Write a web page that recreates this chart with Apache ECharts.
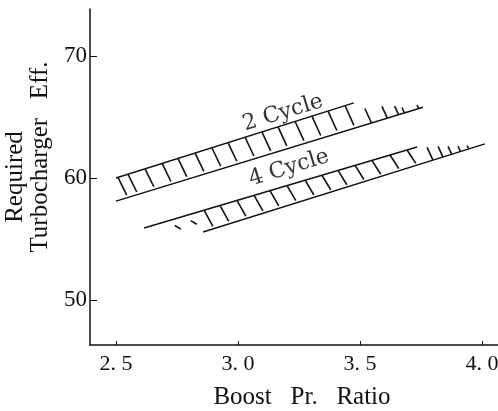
<!DOCTYPE html>
<html><head><meta charset="utf-8">
<script src="https://cdn.jsdelivr.net/npm/echarts@6/dist/echarts.min.js"></script>
<style>html,body{margin:0;padding:0;background:#fff}#c{width:498px;height:411px}</style>
</head><body><div id="c"></div>
<script>
// ---- data ----
const xTicks = [2.5, 3.0, 3.5, 4.0];
const yTicks = [50, 60, 70];
const twoCycleUpper = [[2.5, 60.0], [3.475, 66.15]];
const twoCycleLower = [[2.5, 58.1], [3.758, 65.8]];
const fourCycleUpper = [[2.615, 55.9], [3.734, 62.54]];
const fourCycleLower = [[2.857, 55.57], [4.012, 62.79]];
const twoCycleHatchX = [2.508, 2.549, 2.619, 2.689, 2.754, 2.824, 2.893, 2.959, 3.029, 3.098, 3.164, 3.234, 3.303, 3.369, 3.439];
const twoCycleTailX = [3.520, 3.590, 3.642, 3.672, 3.734];
const twoCycleTailLen = [1.35, 1.1, 0.8, 0.5, 0.33];
const fourCycleHatchX = [2.730, 2.795, 2.861, 2.926, 2.996, 3.066, 3.131, 3.201, 3.275, 3.344, 3.410, 3.480, 3.549, 3.623, 3.693];
const fourCycleTailX = [3.775, 3.820, 3.861, 3.902, 3.939];
const fourCycleTailLen = [1.2, 1.0, 0.75, 0.5, 0.33];
const bandLabels = [
  { name: '2 Cycle', value: [3.184, 65.33] },
  { name: '4 Cycle', value: [3.209, 60.82] }
];

const INK = '#111';
function lineY(line, x) {
  const [a, b] = line;
  return a[1] + (b[1] - a[1]) * (x - a[0]) / (b[0] - a[0]);
}
function hatchSeries(upper, lower, hatchX, tailX, tailLen) {
  const data = hatchX.map(x => [x, 0]).concat(tailX.map((x, i) => [x, tailLen[i]]));
  return {
    type: 'custom', data: data, silent: true, clip: false,
    renderItem: function (params, api) {
      const x = api.value(0), len = api.value(1);
      let p1, p2;
      if (len === 0) {
        const xb = x + 0.036;
        const frac = xb < lower[0][0] ? 0.55 : 0.88;
        p1 = api.coord([x, lineY(upper, x)]);
        const ub = api.coord([xb, lineY(upper, xb)]);
        const lb = api.coord([xb, lineY(lower, xb)]);
        if (frac < 0.8) { p1 = [p1[0] + (lb[0] - p1[0]) * 0.3, p1[1] + (lb[1] - p1[1]) * 0.3]; }
        p2 = [lb[0], ub[1] + (lb[1] - ub[1]) * frac];
      } else {
        const xb = x + 0.02 * len;
        p1 = api.coord([x, lineY(lower, x) + len]);
        p2 = api.coord([xb, lineY(lower, xb)]);
      }
      return { type: 'line', shape: { x1: p1[0], y1: p1[1], x2: p2[0], y2: p2[1] },
               style: { stroke: INK, lineWidth: 1.6 } };
    }
  };
}
function bandLine(data) {
  return { type: 'line', data: data, symbol: 'none', silent: true,
           lineStyle: { color: INK, width: 1.4 } };
}

const chart = echarts.init(document.getElementById('c'), null, { renderer: 'canvas' });
chart.setOption({
  animation: false,
  backgroundColor: '#fff',
  grid: { left: 90, right: 0, top: 9, bottom: 66, containLabel: false, outerBoundsMode: 'none' },
  xAxis: {
    type: 'value', min: 2.3934, max: 4.0656,
    name: 'Boost   Pr.   Ratio', nameLocation: 'middle', nameGap: 40,
    nameTextStyle: { fontFamily: 'Liberation Serif', fontSize: 25, color: INK, padding: [0, 0, 0, 16] },
    axisLine: { show: true, lineStyle: { color: INK, width: 1.5 } },
    axisTick: { show: true, inside: true, length: 4, customValues: xTicks, lineStyle: { color: INK } },
    axisLabel: { customValues: xTicks, margin: 8, fontFamily: 'Liberation Serif', fontSize: 22, color: INK,
                 formatter: v => v.toFixed(1).replace('.', '. ') },
    splitLine: { show: false }
  },
  yAxis: {
    type: 'value', min: 46.31, max: 73.85,
    name: '{a|Required}\n{b|Turbocharger   Eff.}', nameLocation: 'middle', nameRotate: 90, nameGap: 36,
    nameTextStyle: {
      fontFamily: 'Liberation Serif', fontSize: 25, color: INK, lineHeight: 25,
      rich: {
        a: { fontFamily: 'Liberation Serif', fontSize: 25, color: INK, lineHeight: 25 },
        b: { fontFamily: 'Liberation Serif', fontSize: 25, color: INK, lineHeight: 25, padding: [0, 0, 0, 40] }
      }
    },
    axisLine: { show: true, lineStyle: { color: INK, width: 1.5 } },
    axisTick: { show: true, inside: true, length: 7, customValues: yTicks, lineStyle: { color: INK } },
    axisLabel: { customValues: yTicks, margin: 3, fontFamily: 'Liberation Serif', fontSize: 23, color: INK },
    splitLine: { show: false }
  },
  series: [
    bandLine(twoCycleUpper), bandLine(twoCycleLower),
    bandLine(fourCycleUpper), bandLine(fourCycleLower),
    hatchSeries(twoCycleUpper, twoCycleLower, twoCycleHatchX, twoCycleTailX, twoCycleTailLen),
    hatchSeries(fourCycleUpper, fourCycleLower, fourCycleHatchX, fourCycleTailX, fourCycleTailLen),
    {
      type: 'scatter', data: bandLabels, symbolSize: 0, silent: true,
      label: { show: true, formatter: '{b}', position: 'inside', rotate: 17,
               fontFamily: 'DejaVu Serif', fontSize: 22, color: '#000' }
    }
  ]
});
</script></body></html>
